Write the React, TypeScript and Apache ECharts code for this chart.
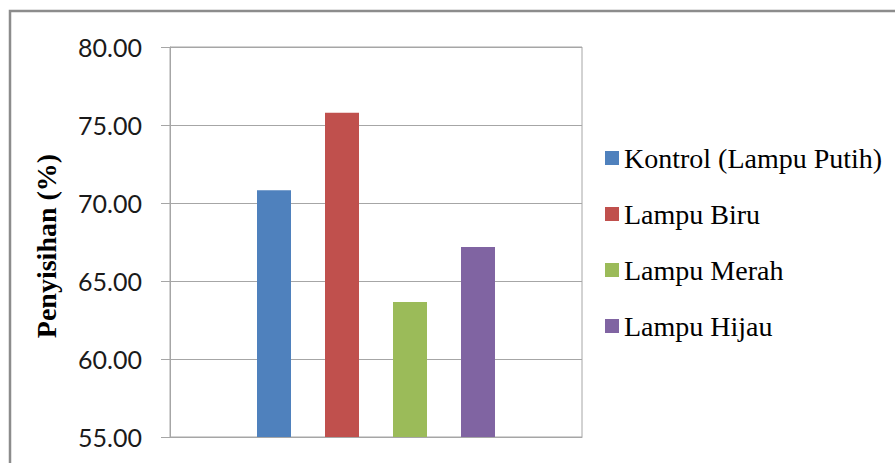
import React, { useEffect, useRef } from "react";
import * as echarts from "echarts";

// Removal efficiency (%) for each lamp treatment
const seriesNames = ["Kontrol (Lampu Putih)", "Lampu Biru", "Lampu Merah", "Lampu Hijau"];
const seriesValues = [70.81, 75.79, 63.65, 67.18];
const seriesColors = ["#4F81BD", "#C0504D", "#9BBB59", "#8064A2"];
const categories = [""];
const yAxisTitle = "Penyisihan (%)";
const yMin = 55;
const yMax = 80;
const yStep = 5;

const gridColor = "#a6a6a6";

export default function App() {
  const ref = useRef<HTMLDivElement>(null);

  useEffect(() => {
    if (!ref.current) return;
    const chart = echarts.init(ref.current, undefined, { renderer: "svg" });

    chart.setOption({
      animation: false,
      backgroundColor: "#ffffff",
      grid: {
        left: 170,
        top: 47,
        width: 412,
        height: 390,
        show: true,
        borderColor: gridColor,
        borderWidth: 1,
      },
      xAxis: {
        type: "category",
        data: categories,
        axisLine: { show: true, lineStyle: { color: gridColor, width: 1 } },
        axisTick: { show: false },
        axisLabel: { show: false },
        splitLine: { show: false },
      },
      yAxis: {
        type: "value",
        min: yMin,
        max: yMax,
        interval: yStep,
        axisLine: { show: true, lineStyle: { color: gridColor, width: 1 } },
        axisTick: { show: true, length: 9, lineStyle: { color: gridColor, width: 1 } },
        axisLabel: {
          margin: 28,
          formatter: (v: number) => v.toFixed(2),
          fontFamily: "Lato, 'Liberation Sans', sans-serif",
          fontSize: 25,
          color: "#1a1a1a",
        },
        splitLine: { show: true, lineStyle: { color: gridColor, width: 1 } },
      },
      legend: {
        orient: "vertical",
        left: 600,
        top: 139,
        itemWidth: 14,
        itemHeight: 14,
        itemGap: 28,
        icon: "rect",
        textStyle: {
          fontFamily: "'Liberation Serif', 'Times New Roman', serif",
          fontSize: 28,
          lineHeight: 28,
          color: "#000000",
        },
        data: seriesNames,
      },
      series: seriesNames.map((name, i) => ({
        name,
        type: "bar",
        data: [seriesValues[i]],
        barWidth: 34,
        barGap: "100%",
        itemStyle: { color: seriesColors[i] },
      })),
      graphic: [
        {
          type: "rect",
          z: -1,
          shape: { x: 10, y: 11, width: 1000, height: 1000 },
          style: { fill: "none", stroke: "#8c8c8c", lineWidth: 2.5 },
        },
        {
          type: "text",
          x: 46,
          y: 246,
          rotation: Math.PI / 2,
          style: {
            text: yAxisTitle,
            font: "bold 28px 'Liberation Serif', 'Times New Roman', serif",
            fill: "#000000",
            align: "center",
            verticalAlign: "middle",
          },
        },
      ],
    });

    return () => chart.dispose();
  }, []);

  return (
    <div
      ref={ref}
      style={{ position: "fixed", left: 0, top: 0, width: 895, height: 463 }}
    />
  );
}
